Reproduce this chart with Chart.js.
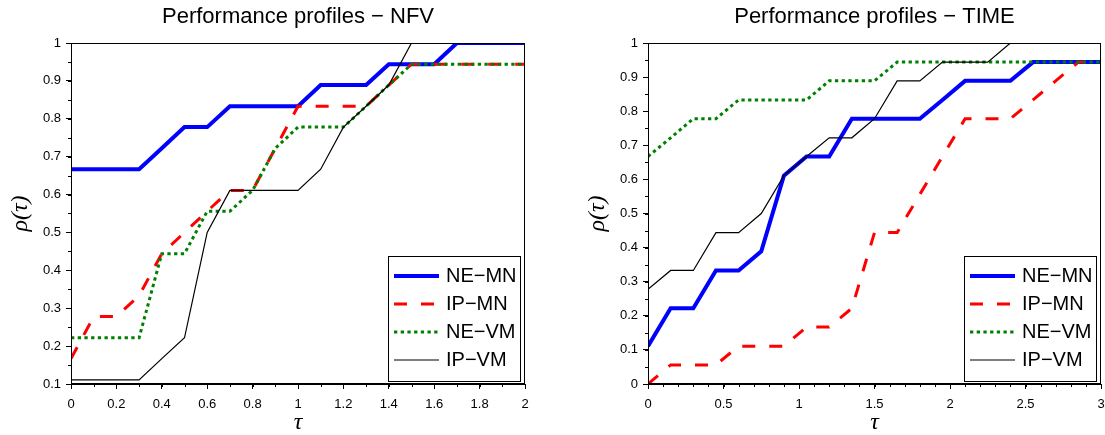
<!DOCTYPE html>
<html lang="en">
<head>
<meta charset="UTF-8">
<title>Performance profiles</title>
<script src="https://cdn.jsdelivr.net/npm/chart.js@4.4.0/dist/chart.umd.min.js"></script>
<style>
  html, body { margin: 0; padding: 0; background: #fff; }
  .wrap { position: absolute; top: 0; height: 435px; }
  #left { left: 0; width: 552px; }
  #right { left: 552px; width: 553px; }
</style>
</head>
<body>
<div class="wrap" id="left"><canvas id="nfv" width="552" height="435"></canvas></div>
<div class="wrap" id="right"><canvas id="time" width="553" height="435"></canvas></div>
<script>
const seriesNames = ['NE\u2212MN', 'IP\u2212MN', 'NE\u2212VM', 'IP\u2212VM'];

// NFV profile
const nfvTau  = [0, 0.1, 0.2, 0.3, 0.4, 0.5, 0.6, 0.7, 0.8, 0.9, 1, 1.1, 1.2, 1.3, 1.4, 1.5, 1.6, 1.7, 1.8, 1.9, 2];
const nfvNEMN = [0.667, 0.667, 0.667, 0.667, 0.722, 0.778, 0.778, 0.833, 0.833, 0.833, 0.833, 0.889, 0.889, 0.889, 0.944, 0.944, 0.944, 1, 1, 1, 1];
const nfvIPMN = [0.167, 0.278, 0.278, 0.333, 0.444, 0.5, 0.556, 0.611, 0.611, 0.722, 0.833, 0.833, 0.833, 0.833, 0.889, 0.944, 0.944, 0.944, 0.944, 0.944, 0.944];
const nfvNEVM = [0.222, 0.222, 0.222, 0.222, 0.444, 0.444, 0.556, 0.556, 0.611, 0.722, 0.778, 0.778, 0.778, 0.833, 0.889, 0.944, 0.944, 0.944, 0.944, 0.944, 0.944];
const nfvIPVM = [0.111, 0.111, 0.111, 0.111, 0.167, 0.222, 0.5, 0.611, 0.611, 0.611, 0.611, 0.667, 0.778, 0.833, 0.889, 1, 1, 1, 1, 1, 1];
const nfvXTicks = [0, 0.2, 0.4, 0.6, 0.8, 1, 1.2, 1.4, 1.6, 1.8, 2];
const nfvYTicks = [0.1, 0.2, 0.3, 0.4, 0.5, 0.6, 0.7, 0.8, 0.9, 1];

// TIME profile
const timeTau  = [0, 0.15, 0.3, 0.45, 0.6, 0.75, 0.9, 1.05, 1.2, 1.35, 1.5, 1.65, 1.8, 1.95, 2.1, 2.25, 2.4, 2.55, 2.7, 2.85, 3];
const timeNEMN = [0.111, 0.222, 0.222, 0.333, 0.333, 0.389, 0.611, 0.667, 0.667, 0.778, 0.778, 0.778, 0.778, 0.833, 0.889, 0.889, 0.889, 0.944, 0.944, 0.944, 0.944];
const timeIPMN = [0, 0.056, 0.056, 0.056, 0.111, 0.111, 0.111, 0.167, 0.167, 0.222, 0.444, 0.444, 0.556, 0.667, 0.778, 0.778, 0.778, 0.833, 0.889, 0.944, 0.944];
const timeNEVM = [0.667, 0.722, 0.778, 0.778, 0.833, 0.833, 0.833, 0.833, 0.889, 0.889, 0.889, 0.944, 0.944, 0.944, 0.944, 0.944, 0.944, 0.944, 0.944, 0.944, 0.944];
const timeIPVM = [0.278, 0.333, 0.333, 0.444, 0.444, 0.5, 0.611, 0.667, 0.722, 0.722, 0.778, 0.889, 0.889, 0.944, 0.944, 0.944, 1, 1, 1, 1, 1];
const timeXTicks = [0, 0.5, 1, 1.5, 2, 2.5, 3];
const timeYTicks = [0, 0.1, 0.2, 0.3, 0.4, 0.5, 0.6, 0.7, 0.8, 0.9, 1];

Chart.defaults.font.family = "'Liberation Sans', Arial, Helvetica, sans-serif";
Chart.defaults.color = '#000';

// line look per series, same order as seriesNames
const looks = [
    { color: '#0000ff', width: 4, dash: [] },
    { color: '#ff0000', width: 3, dash: [13, 14] },
    { color: '#008000', width: 3, dash: [3.3, 3.4] },
    { color: '#000000', width: 1.2, dash: [] }
];

// box around the axes, short minor ticks and the legend inside the plot
const frame = {
    id: 'frame',
    afterDraw(chart, args, opts) {
        const ctx = chart.ctx;
        const a = chart.chartArea;
        const sx = chart.scales.x, sy = chart.scales.y;
        ctx.save();
        ctx.strokeStyle = '#000';
        ctx.lineWidth = 1;
        ctx.strokeRect(Math.round(a.left) + 0.5, Math.round(a.top) + 0.5,
            Math.round(a.right - a.left) - 1, Math.round(a.bottom - a.top) - 1);

        ctx.beginPath();
        let n = Math.round((sx.max - sx.min) / opts.xMinor);
        for (let i = 0; i <= n; i++) {
            const px = Math.round(sx.getPixelForValue(sx.min + i * opts.xMinor)) + 0.5;
            ctx.moveTo(px, a.bottom);
            ctx.lineTo(px, a.bottom + 3);
        }
        n = Math.round((sy.max - sy.min) / opts.yMinor);
        for (let i = 0; i <= n; i++) {
            const py = Math.round(sy.getPixelForValue(sy.min + i * opts.yMinor)) + 0.5;
            ctx.moveTo(a.left, py);
            ctx.lineTo(a.left - 3, py);
        }
        ctx.stroke();

        // legend
        const bw = 132, bh = 125;
        const bx = Math.round(a.right - 5 - bw), by = Math.round(a.bottom - 3 - bh);
        ctx.fillStyle = '#fff';
        ctx.fillRect(bx, by, bw, bh);
        ctx.strokeRect(bx + 0.5, by + 0.5, bw, bh);
        ctx.font = "20px 'Liberation Sans', Arial, sans-serif";
        ctx.textBaseline = 'middle';
        chart.data.datasets.forEach((ds, i) => {
            const ly = by + 20 + i * 28;
            ctx.save();
            ctx.strokeStyle = ds.borderColor;
            ctx.lineWidth = ds.borderWidth;
            ctx.setLineDash(ds.borderDash);
            ctx.beginPath();
            ctx.moveTo(bx + 6, ly);
            ctx.lineTo(bx + 51, ly);
            ctx.stroke();
            ctx.restore();
            ctx.fillStyle = '#000';
            ctx.fillText(ds.label, bx + 58, ly);
        });
        ctx.restore();
    }
};

function makeProfile(canvasId, title, tau, series, xTicks, yTicks, xMax, yMin, xMinor, padLeft, padRight) {
    const datasets = series.map((vals, i) => ({
        label: seriesNames[i],
        data: tau.map((t, k) => ({ x: t, y: vals[k] })),
        borderColor: looks[i].color,
        borderWidth: looks[i].width,
        borderDash: looks[i].dash,
        borderCapStyle: 'butt',
        pointRadius: 0,
        tension: 0,
        fill: false,
        order: 4 - i
    }));
    return new Chart(document.getElementById(canvasId), {
        type: 'line',
        data: { datasets: datasets },
        options: {
            responsive: false,
            animation: false,
            devicePixelRatio: 1,
            layout: { padding: { left: padLeft, right: padRight, top: 0, bottom: 0 } },
            plugins: {
                legend: { display: false },
                tooltip: { enabled: false },
                title: {
                    display: true,
                    text: title,
                    fullSize: false,
                    color: '#000',
                    font: { size: 22, weight: 'normal', lineHeight: 1.2 },
                    padding: { top: 4, bottom: 12.6 }
                },
                frame: { xMinor: xMinor, yMinor: 0.05 }
            },
            scales: {
                x: {
                    type: 'linear',
                    min: 0,
                    max: xMax,
                    afterBuildTicks: s => { s.ticks = xTicks.map(v => ({ value: v })); },
                    afterFit: s => { s.height = 51; s.paddingLeft = 0; s.paddingRight = 0; },
                    ticks: { font: { size: 13 }, padding: 8, maxRotation: 0, autoSkip: false, callback: v => String(v) },
                    grid: { drawOnChartArea: false, tickLength: 5, color: '#000' },
                    border: { color: '#000', width: 1 },
                    title: {
                        display: true,
                        text: '\u03c4',
                        color: '#000',
                        font: { family: "'Liberation Serif', 'Times New Roman', serif", style: 'italic', size: 24, lineHeight: 1 },
                        padding: { top: 0, bottom: 0 }
                    }
                },
                y: {
                    type: 'linear',
                    min: yMin,
                    max: 1,
                    afterBuildTicks: s => { s.ticks = yTicks.map(v => ({ value: v })); },
                    afterFit: s => { s.width = 71; s.paddingTop = 0; s.paddingBottom = 0; },
                    ticks: { font: { size: 13 }, padding: 5, autoSkip: false, callback: v => String(v) },
                    grid: { drawOnChartArea: false, tickLength: 5, color: '#000' },
                    border: { color: '#000', width: 1 },
                    title: {
                        display: true,
                        text: '\u03c1(\u03c4)',
                        color: '#000',
                        font: { family: "'Liberation Serif', 'Times New Roman', serif", style: 'italic', size: 24, lineHeight: 1 },
                        padding: { top: 9, bottom: 0 }
                    }
                }
            }
        },
        plugins: [frame]
    });
}

makeProfile('nfv', 'Performance profiles \u2212 NFV', nfvTau,
    [nfvNEMN, nfvIPMN, nfvNEVM, nfvIPVM], nfvXTicks, nfvYTicks, 2, 0.1, 0.1, 0, 27);
makeProfile('time', 'Performance profiles \u2212 TIME', timeTau,
    [timeNEMN, timeIPMN, timeNEVM, timeIPVM], timeXTicks, timeYTicks, 3, 0, 0.1, 25, 4);
</script>
</body>
</html>
